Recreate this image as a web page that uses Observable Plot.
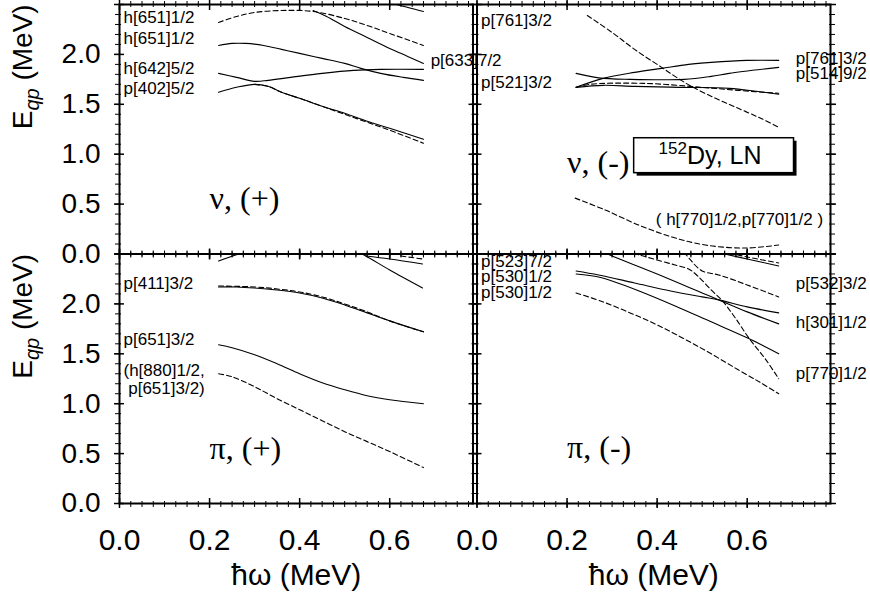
<!DOCTYPE html>
<html>
<head>
<meta charset="utf-8">
<script src="https://cdn.jsdelivr.net/npm/d3@7"></script>
<script src="https://cdn.jsdelivr.net/npm/@observablehq/plot@0.6"></script>
<style>
  html, body { margin: 0; padding: 0; background: #fff; }
  #chart { width: 870px; height: 602px; }
</style>
</head>
<body>
<div id="chart"></div>
<script>
// Quasiparticle routhians E_qp versus rotational frequency ħω for 152Dy (LN).
// Each curve is a list of [ħω (MeV), E_qp (MeV)] pairs.

// ---- neutrons, positive parity ----
const nuPosH651Dashed = [[0.22,2.32],[0.26,2.38],[0.30,2.42],[0.36,2.44],[0.43,2.43],[0.50,2.36],[0.55,2.29],[0.60,2.21],[0.675,2.09]];
const nuPosP633       = [[0.43,2.44],[0.46,2.38],[0.50,2.28],[0.55,2.17],[0.60,2.06],[0.64,1.98],[0.675,1.91]];
const nuPosTopBranch  = [[0.60,2.52],[0.615,2.50],[0.675,2.43]];
const nuPosH651       = [[0.22,2.09],[0.25,2.11],[0.28,2.11],[0.32,2.09],[0.36,2.05],[0.40,2.01],[0.45,1.96],[0.50,1.91],[0.536,1.86],[0.58,1.81],[0.63,1.77],[0.675,1.74]];
const nuPosH642       = [[0.22,1.81],[0.26,1.77],[0.30,1.73],[0.33,1.74],[0.38,1.77],[0.45,1.81],[0.52,1.84],[0.58,1.85],[0.675,1.85]];
const nuPosP402       = [[0.22,1.62],[0.26,1.67],[0.30,1.70],[0.33,1.68],[0.36,1.62],[0.40,1.56],[0.45,1.48],[0.50,1.41],[0.55,1.33],[0.60,1.26],[0.675,1.15]];
const nuPosP402Dashed = [[0.30,1.70],[0.33,1.68],[0.36,1.62],[0.40,1.56],[0.45,1.48],[0.50,1.40],[0.55,1.32],[0.60,1.24],[0.675,1.11]];

// ---- neutrons, negative parity ----
const nuNegP761Dashed = [[0.245,2.39],[0.30,2.22],[0.35,2.05],[0.41,1.87],[0.45,1.75],[0.48,1.67],[0.53,1.56],[0.58,1.46],[0.63,1.36],[0.67,1.27]];
const nuNegP761       = [[0.22,1.67],[0.28,1.76],[0.35,1.82],[0.41,1.86],[0.47,1.90],[0.52,1.92],[0.60,1.94],[0.67,1.94]];
const nuNegP514       = [[0.22,1.81],[0.27,1.765],[0.34,1.75],[0.46,1.75],[0.52,1.78],[0.56,1.81],[0.67,1.87]];
const nuNegP521Dashed = [[0.22,1.67],[0.25,1.70],[0.37,1.71],[0.50,1.67],[0.58,1.64],[0.67,1.61]];
const nuNegP521       = [[0.22,1.67],[0.28,1.69],[0.35,1.68],[0.45,1.67],[0.56,1.66],[0.62,1.63],[0.67,1.60]];
const nuNegN770Dashed = [[0.218,0.56],[0.285,0.44],[0.359,0.29],[0.433,0.17],[0.507,0.09],[0.596,0.06],[0.67,0.09]];

// ---- protons, positive parity ----
const piPosTopLeft    = [[0.22,2.43],[0.265,2.50],[0.28,2.52]];
const piPosP411       = [[0.22,2.17],[0.26,2.17],[0.30,2.16],[0.35,2.14],[0.40,2.11],[0.45,2.06],[0.50,1.99],[0.55,1.91],[0.60,1.83],[0.675,1.72]];
const piPosP411Dashed = [[0.22,2.18],[0.30,2.17],[0.35,2.15],[0.40,2.12],[0.45,2.07],[0.50,2.00],[0.55,1.92],[0.60,1.83],[0.675,1.72]];
const piPosSteep      = [[0.52,2.54],[0.547,2.48],[0.60,2.34],[0.673,2.16]];
const piPosUpper      = [[0.547,2.48],[0.60,2.45],[0.673,2.40]];
const piPosUpperDash  = [[0.625,2.48],[0.673,2.45]];
const piPosP651       = [[0.22,1.59],[0.25,1.56],[0.30,1.49],[0.35,1.40],[0.40,1.30],[0.45,1.21],[0.50,1.14],[0.55,1.08],[0.60,1.04],[0.675,1.00]];
const piPosH880Dashed = [[0.22,1.30],[0.25,1.27],[0.30,1.17],[0.35,1.05],[0.40,0.94],[0.45,0.83],[0.50,0.72],[0.55,0.62],[0.60,0.52],[0.675,0.36]];

// ---- protons, negative parity ----
const piNegSteep      = [[0.28,2.52],[0.30,2.48],[0.40,2.30],[0.50,2.11],[0.537,2.04],[0.60,1.92],[0.67,1.80]];
const piNegP530a      = [[0.22,2.33],[0.27,2.29],[0.35,2.21],[0.43,2.13],[0.50,2.07],[0.537,2.04],[0.60,1.97],[0.67,1.91]];
const piNegP530b      = [[0.22,2.30],[0.27,2.27],[0.30,2.23],[0.36,2.13],[0.44,1.98],[0.52,1.82],[0.60,1.66],[0.67,1.50]];
const piNegP770Dashed = [[0.33,2.52],[0.36,2.49],[0.40,2.44],[0.44,2.39],[0.47,2.35],[0.49,2.28],[0.52,2.14],[0.545,2.03],[0.575,1.85],[0.605,1.65],[0.64,1.45],[0.67,1.25]];
const piNegP532Dashed = [[0.46,2.52],[0.474,2.44],[0.50,2.33],[0.537,2.29],[0.60,2.19],[0.67,2.07]];
const piNegTopSolid   = [[0.55,2.50],[0.60,2.45],[0.67,2.38]];
const piNegTopDashed  = [[0.56,2.51],[0.60,2.47],[0.67,2.41]];
const piNegLowDashed  = [[0.22,2.11],[0.28,2.02],[0.34,1.91],[0.40,1.79],[0.46,1.65],[0.52,1.50],[0.58,1.34],[0.63,1.21],[0.67,1.10]];

// panel (column, row), line style, curve
const curves = [
  ["L","T","dash",nuPosH651Dashed],["L","T","solid",nuPosP633],["L","T","solid",nuPosTopBranch],
  ["L","T","solid",nuPosH651],["L","T","solid",nuPosH642],["L","T","solid",nuPosP402],["L","T","dash",nuPosP402Dashed],
  ["R","T","dash",nuNegP761Dashed],["R","T","solid",nuNegP761],["R","T","solid",nuNegP514],
  ["R","T","dash",nuNegP521Dashed],["R","T","solid",nuNegP521],["R","T","dash",nuNegN770Dashed],
  ["L","B","solid",piPosTopLeft],["L","B","solid",piPosP411],["L","B","dash",piPosP411Dashed],
  ["L","B","solid",piPosSteep],["L","B","solid",piPosUpper],["L","B","dash",piPosUpperDash],
  ["L","B","solid",piPosP651],["L","B","dash",piPosH880Dashed],
  ["R","B","solid",piNegSteep],["R","B","solid",piNegP530a],["R","B","solid",piNegP530b],
  ["R","B","dash",piNegP770Dashed],["R","B","dash",piNegP532Dashed],["R","B","solid",piNegTopSolid],
  ["R","B","dash",piNegTopDashed],["R","B","dash",piNegLowDashed]
];

// orbital labels: [column, row, ħω, E, text]
const orbitalLabels = [
  ["L","T",0,2.37,"h[651]1/2"],["L","T",0,2.16,"h[651]1/2"],["L","T",0,1.86,"h[642]5/2"],["L","T",0,1.66,"p[402]5/2"],
  ["L","T",0.691,1.94,"p[633]7/2"],
  ["R","T",0,2.34,"p[761]3/2"],["R","T",0,1.72,"p[521]3/2"],
  ["R","T",0.708,1.955,"p[761]3/2"],["R","T",0.708,1.81,"p[514]9/2"],
  ["R","T",0.397,0.35,"( h[770]1/2,p[770]1/2 )"],
  ["L","B",0,2.20,"p[411]3/2"],["L","B",0,1.64,"p[651]3/2"],["L","B",0,1.33,"(h[880]1/2,"],["L","B",0,1.15,"\u00a0p[651]3/2)"],
  ["R","B",0,2.42,"p[523]7/2"],["R","B",0,2.27,"p[530]1/2"],["R","B",0,2.11,"p[530]1/2"],
  ["R","B",0.708,2.20,"p[532]3/2"],["R","B",0.708,1.81,"h[301]1/2"],["R","B",0.708,1.30,"p[770]1/2"]
];

// panel tags: [column, row, ħω, E, text]
const panelTags = [
  ["L","T",0.2,0.55,"ν, (+)"],["R","T",0.2,0.91,"ν, (-)"],
  ["L","B",0.2,0.55,"π, (+)"],["R","B",0.2,0.56,"π, (-)"]
];

// nucleus / band tag box (top-right panel)
const nucleusTag = {col:"R", row:"T", x1:0.349, x2:0.704, y1:0.81, y2:1.16, text:"152Dy, LN"};

// axis ticks
const xMajor = [0, 0.2, 0.4, 0.6];
const xMinor = d3.range(0, 32).map(i => i * 0.025);
const yMajor = [0, 0.5, 1.0, 1.5, 2.0, 2.5];
const yMinor = d3.range(0, 26).map(i => i / 10);
const yTickLabels = [0, 0.5, 1.0, 1.5, 2.0];
const xTitle = "ħω (MeV)";
const yTitle = "Eqp (MeV)";

// flatten the curves into a tidy table
const rows = curves.flatMap(([col, row, style, pts], id) =>
  pts.map(([w, e]) => ({id, col, row, style, w, e})));
const solidRows = rows.filter(d => d.style === "solid");
const dashRows = rows.filter(d => d.style === "dash");
const labelRows = orbitalLabels.map(([col,row,w,e,text]) => ({col,row,w,e,text}));
const leftLabels = labelRows.filter(d => d.w === 0);
const otherLabels = labelRows.filter(d => d.w !== 0);
const tagRows = panelTags.map(([col,row,w,e,text]) => ({col,row,w,e,text}));

const fmt = d3.format(".1f");

// ticks straddling every frame edge of every panel
const edgeTicks = [];
for (const anchor of ["left","right"]) {
  const s = anchor === "left" ? 1 : -1;
  edgeTicks.push(
    Plot.axisY(yMinor, {anchor, facetAnchor: null, tickSize: 6, dx: 2 * s, fill: "none", label: null, strokeWidth: 1}),
    Plot.axisY(yMajor, {anchor, facetAnchor: null, tickSize: 10, dx: 5 * s, fill: "none", label: null, strokeWidth: 1.5})
  );
}
for (const anchor of ["top","bottom"]) {
  const s = anchor === "top" ? 1 : -1;
  edgeTicks.push(
    Plot.axisX(xMinor, {anchor, facetAnchor: null, tickSize: 6, dy: 2 * s, fill: "none", label: null, strokeWidth: 1}),
    Plot.axisX(xMajor, {anchor, facetAnchor: null, tickSize: 10, dy: 5 * s, fill: "none", label: null, strokeWidth: 1.5})
  );
}

const svg = Plot.plot({
  width: 870,
  height: 602,
  marginLeft: 119,
  marginRight: 40,
  marginTop: 4,
  marginBottom: 99,
  style: {fontFamily: "'Liberation Sans', Arial, sans-serif", fontSize: "17px", background: "#fff", color: "#000"},
  x: {domain: [0, 0.785]},
  y: {domain: [0, 2.5]},
  fx: {domain: ["L","R"], paddingInner: 0.0112, paddingOuter: 0, round: false, axis: null},
  fy: {domain: ["T","B"], padding: 0, round: false, axis: null},
  marks: [
    Plot.line(solidRows, {x: "w", y: "e", z: "id", fx: "col", fy: "row", curve: "catmull-rom", stroke: "#000", strokeWidth: 1.1, clip: true}),
    Plot.line(dashRows, {x: "w", y: "e", z: "id", fx: "col", fy: "row", curve: "catmull-rom", stroke: "#000", strokeWidth: 1.1, strokeDasharray: "5,3", clip: true}),
    Plot.text(leftLabels, {x: "w", y: "e", text: "text", fx: "col", fy: "row", textAnchor: "start", dx: 4, fontSize: 17, fill: "#000"}),
    Plot.text(otherLabels, {x: "w", y: "e", text: "text", fx: "col", fy: "row", textAnchor: "start", fontSize: 17, fill: "#000"}),
    Plot.text(tagRows, {x: "w", y: "e", text: "text", fx: "col", fy: "row", textAnchor: "start", fontSize: 32, fontFamily: "'Liberation Serif', 'Times New Roman', serif", fill: "#000"}),
    Plot.rect([nucleusTag], {x1: "x1", x2: "x2", y1: "y1", y2: "y2", fx: "col", fy: "row", fill: "#000", dx: 3, dy: 3}),
    Plot.rect([nucleusTag], {x1: "x1", x2: "x2", y1: "y1", y2: "y2", fx: "col", fy: "row", fill: "#fff", stroke: "#000", strokeWidth: 1.5}),
    Plot.text([nucleusTag], {x: d => (d.x1 + d.x2) / 2, y: d => (d.y1 + d.y2) / 2, text: "text", fx: "col", fy: "row", fontSize: 25, fill: "#000", dx: -4}),
    Plot.frame({stroke: "#000", strokeWidth: 2}),
    ...edgeTicks,
    Plot.axisY(yTickLabels, {anchor: "left", facetAnchor: "left", tickSize: 0, tickPadding: 19, fontSize: 28, tickFormat: fmt, label: null, fill: "#000"}),
    Plot.axisX(xMajor, {anchor: "bottom", facetAnchor: "bottom", tickSize: 0, tickPadding: 25, fontSize: 30, tickFormat: fmt, label: null, fill: "#000"}),
    Plot.text([{col: "L", row: "B"}, {col: "R", row: "B"}], {fx: "col", fy: "row", frameAnchor: "bottom", text: () => xTitle, dy: 81, fontSize: 30, fill: "#000"}),
    Plot.text([{col: "L", row: "T"}, {col: "L", row: "B"}], {fx: "col", fy: "row", frameAnchor: "left", text: () => yTitle, dx: -96, rotate: -90, fontSize: 28, fill: "#000"})
  ]
});

// rich text: subscript in the y title, superscript mass number in the tag box
d3.select(svg).selectAll("text").each(function () {
  const t = d3.select(this);
  if (this.textContent === yTitle) {
    t.text(null);
    t.append("tspan").text("E");
    t.append("tspan").attr("font-style", "italic").attr("font-size", "20px").attr("dy", 7).text("qp");
    t.append("tspan").attr("dy", -7).text("\u00a0(MeV)");
  } else if (this.textContent === nucleusTag.text) {
    t.text(null);
    t.append("tspan").attr("font-size", "17px").attr("dy", -10).text("152");
    t.append("tspan").attr("dy", 10).text("Dy, LN");
  }
});

document.getElementById("chart").appendChild(svg);
</script>
</body>
</html>
